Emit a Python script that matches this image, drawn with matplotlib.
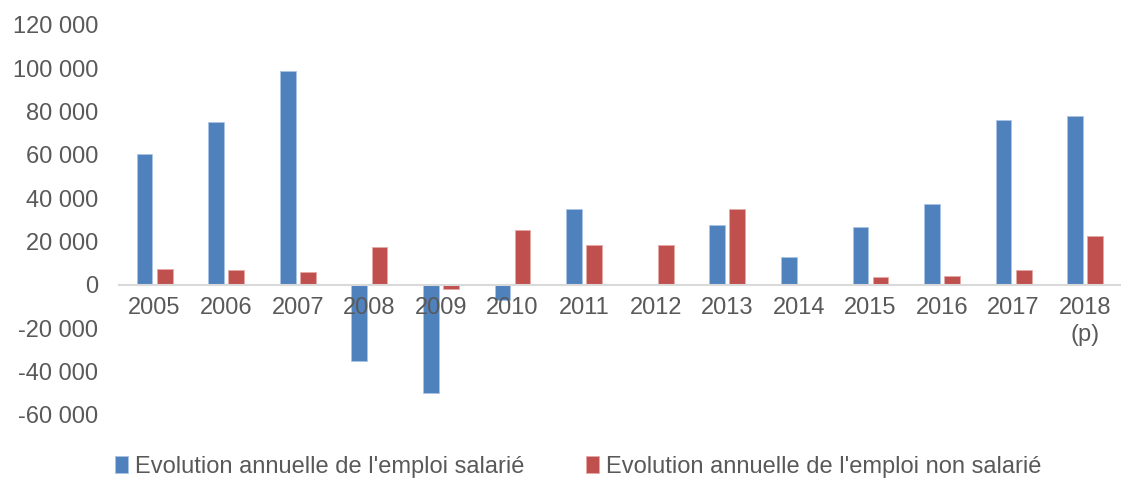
import matplotlib.pyplot as plt
import numpy as np
from matplotlib.ticker import FuncFormatter

# Data
years = ["2005", "2006", "2007", "2008", "2009", "2010", "2011",
         "2012", "2013", "2014", "2015", "2016", "2017", "2018\n(p)"]
salarie = [60300, 75200, 98800, -35100, -50100, -6800, 35100,
           300, 27700, 12800, 26600, 37200, 76000, 77800]
non_salarie = [7400, 6800, 5800, 17400, -2000, 25400, 18600,
               18600, 34900, 300, 3800, 4150, 6800, 22500]

label_sal = "Evolution annuelle de l'emploi salarié"
label_non = "Evolution annuelle de l'emploi non salarié"

plt.rcParams["font.family"] = ["Liberation Sans", "DejaVu Sans"]
text_color = "#595959"

fig = plt.figure(figsize=(11.21, 4.78), dpi=100)
ax = fig.add_axes([0.106, 0.132, 0.894, 0.816])

x = np.arange(len(years))
w = 0.22
ax.bar(x - 0.14, salarie, width=w, color="#4F81BD", edgecolor="#A9C4E6",
       linewidth=0.6, label=label_sal)
ax.bar(x + 0.14, non_salarie, width=w, color="#C0504D", edgecolor="#E6A9A8",
       linewidth=0.6, label=label_non)

ax.set_xlim(-0.5, len(years) - 0.5)
ax.set_ylim(-60000, 120000)
ax.set_yticks(np.arange(-60000, 120001, 20000))
ax.yaxis.set_major_formatter(FuncFormatter(lambda v, p: f"{int(v):,}".replace(",", " ")))

# x axis drawn on the zero line
for side in ["top", "right", "left"]:
    ax.spines[side].set_visible(False)
ax.spines["bottom"].set_position(("data", 0))
ax.spines["bottom"].set_color("#D9D9D9")
ax.spines["bottom"].set_linewidth(1.5)
ax.set_xticks(x)
ax.set_xticklabels(years, linespacing=1.25)
ax.tick_params(axis="x", length=0, pad=9, labelsize=17, labelcolor=text_color)
ax.tick_params(axis="y", length=0, pad=15, labelsize=17, labelcolor=text_color)

fig.legend(loc="center", bbox_to_anchor=(0.516, 0.023), ncol=2, frameon=False,
           fontsize=17, labelcolor=text_color, handlelength=0.55, handleheight=0.7,
           handletextpad=0.3, columnspacing=2.6)

fig.savefig("out.png", dpi=100, facecolor="white")
